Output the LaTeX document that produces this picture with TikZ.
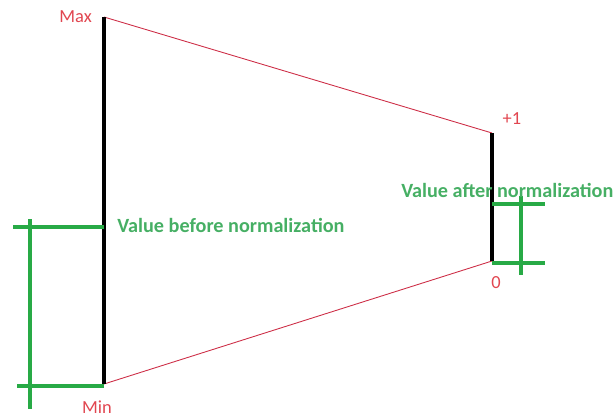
\documentclass[tikz,border=0pt]{standalone}
\usepackage{fontspec}
\setmainfont{Carlito}
\usepackage{tikz}
\usetikzlibrary{calc}

\definecolor{rangered}{RGB}{205,45,70}
\definecolor{labelred}{RGB}{225,70,80}
\definecolor{bargreen}{RGB}{40,170,70}
\definecolor{textgreen}{RGB}{70,175,100}

\tikzset{
    axis/.style={black, line width=2.2pt},
    spread/.style={rangered, line width=0.5pt},
    bracket/.style={bargreen, line width=2pt},
    endlabel/.style={text=labelred, font=\fontsize{10.5}{12}\selectfont, inner sep=1pt},
    note/.style={text=textgreen, font=\fontsize{11.5}{13}\selectfont\bfseries, inner sep=0pt, anchor=west}
}

\begin{document}
\begin{tikzpicture}[x=0.02cm, y=-0.02cm]
    \useasboundingbox (0,0) rectangle (616,416);
    \clip (0,0) rectangle (616,416);

    %ends of the two ranges
        \coordinate[] (Max) at (104,17);
        \coordinate[] (Min) at (104,384);
        \coordinate[] (One) at (492,133);
        \coordinate[] (Zero) at (492,261);

    %red lines joining the ranges
        \draw[spread] (Max) -- (One);
        \draw[spread] (Min) -- (Zero);

    %the two axes
        \draw[axis] (Max) -- (Min);
        \draw[axis] (One) -- (Zero);

    %labels at the ends
        \node[endlabel, anchor=east] (maxlabel) at ($(Max)+(-10,0)$) {Max};
        \node[endlabel, anchor=south] (minlabel) at (97,416) {Min};
        \node[endlabel] (onelabel) at ($(One)+(20,-14)$) {+1};
        \node[endlabel] (zerolabel) at ($(Zero)+(4,22)$) {0};

    %value before normalization
        \coordinate[] (B1) at (104,227);
        \coordinate[] (B2) at (104,386);
        \draw[bracket] (B1) -- (13,227);
        \draw[bracket] (B2) -- (17,386);
        \draw[bracket] (30,219) -- (30,409);
        \node[note] (before) at ($(B1)+(13,-2)$) {Value before normalization};

    %value after normalization
        \coordinate[] (A1) at (492,204);
        \coordinate[] (A2) at (492,263);
        \draw[bracket] (A1) -- (545,204);
        \draw[bracket] (A2) -- (545,263);
        \draw[bracket] (521,196) -- (521,275);
        \node[note] (after) at (401,190) {Value after normalization};
\end{tikzpicture}
\end{document}
